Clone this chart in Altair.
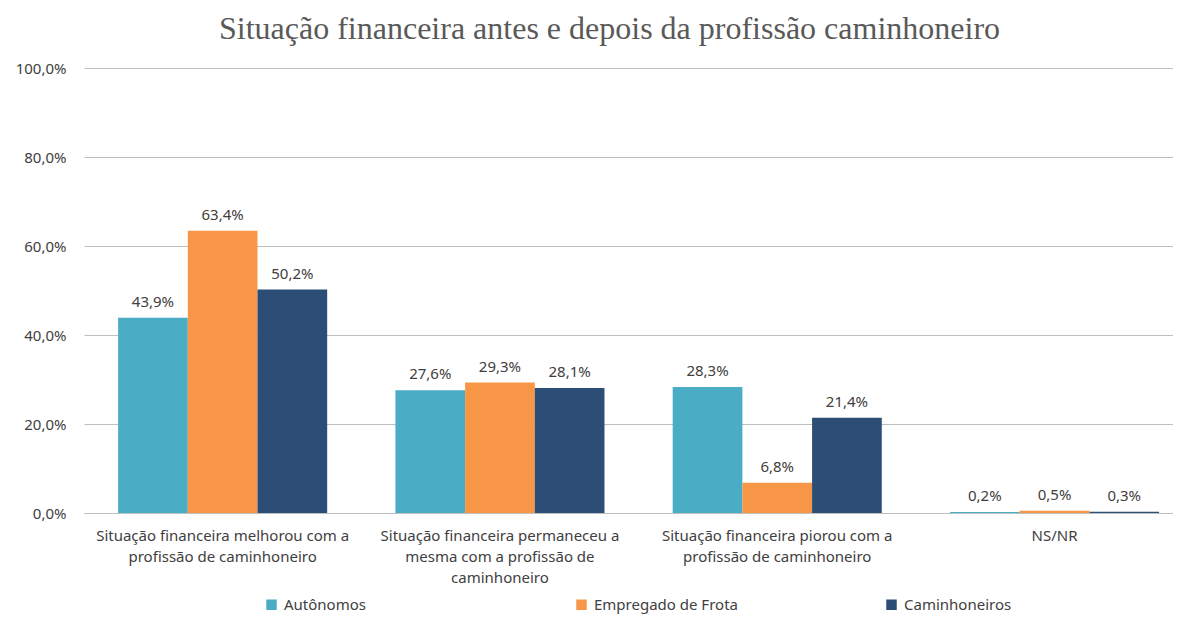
import altair as alt
import pandas as pd

categories = [
    "Situação financeira melhorou com a|profissão de caminhoneiro",
    "Situação financeira permaneceu a|mesma com a profissão de|caminhoneiro",
    "Situação financeira piorou com a|profissão de caminhoneiro",
    "NS/NR",
]
series = ["Autônomos", "Empregado de Frota", "Caminhoneiros"]
autonomos = [43.9, 27.6, 28.3, 0.2]
frota = [63.4, 29.3, 6.8, 0.5]
caminhoneiros = [50.2, 28.1, 21.4, 0.3]
colors = ["#4BACC6", "#F79646", "#2C4D75"]
y_ticks = [0, 20, 40, 60, 80, 100]

rows = []
for s, vals in zip(series, [autonomos, frota, caminhoneiros]):
    for c, v in zip(categories, vals):
        rows.append({"cat": c, "serie": s, "value": v})
df = pd.DataFrame(rows)

FONT = "Noto Sans"
TXT = "#404040"
FS = 15

base = alt.Chart(df).encode(
    x=alt.X(
        "cat:N",
        sort=categories,
        title=None,
        scale=alt.Scale(paddingInner=0.246, paddingOuter=0.0866, align=0.71),
        axis=alt.Axis(
            labelExpr="split(datum.label, '|')",
            labelAngle=0,
            ticks=False,
            domain=True,
            domainColor="#BFBFBF",
            labelFont=FONT,
            labelFontSize=FS,
            labelColor=TXT,
            labelPadding=15,
            labelLineHeight=21,
            labelBaseline="top",
            labelLimit=400,
        ),
    ),
    xOffset=alt.XOffset("serie:N", sort=series, scale=alt.Scale(paddingInner=0, paddingOuter=0)),
    y=alt.Y(
        "value:Q",
        title=None,
        scale=alt.Scale(domain=[0, 100], nice=False),
        axis=alt.Axis(
            values=y_ticks,
            labelExpr="replace(format(datum.value, '.1f'), '.', ',') + '%'",
            ticks=False,
            domain=False,
            grid=True,
            gridColor="#BFBFBF",
            labelFont=FONT,
            labelFontSize=FS,
            labelColor=TXT,
            labelPadding=18,
        ),
    ),
)

bars = base.mark_bar().encode(
    color=alt.Color(
        "serie:N",
        sort=series,
        scale=alt.Scale(domain=series, range=colors),
        legend=alt.Legend(
            title=None,
            orient="none",
            direction="horizontal",
            legendX=180,
            legendY=529,
            symbolType="square",
            symbolSize=110,
            symbolStrokeWidth=0,
            labelFont=FONT,
            labelFontSize=FS,
            labelColor=TXT,
            labelOffset=5,
            columns=3,
            gridAlign="all",
            columnPadding=146,
        ),
    )
)

labels = base.transform_calculate(
    label="replace(format(datum.value, '.1f'), '.', ',') + '%'"
).mark_text(dy=-8, baseline="bottom", font=FONT, fontSize=FS, color=TXT).encode(text="label:N")

chart = (
    alt.layer(bars, labels)
    .properties(
        width=1089,
        height=445,
        autosize=alt.AutoSizeParams(type="none"),
        padding={"left": 76, "top": 60, "right": 0, "bottom": 102},
        title=alt.TitleParams(
            "Situação financeira antes e depois da profissão caminhoneiro",
            font="Liberation Serif",
            fontSize=32,
            fontWeight="normal",
            color="#595959",
            anchor="middle",
            dx=-19,
            offset=15,
        ),
    )
    .configure_view(stroke=None)
)

chart.save("out.html", embed_options={"renderer": "svg", "actions": False})
